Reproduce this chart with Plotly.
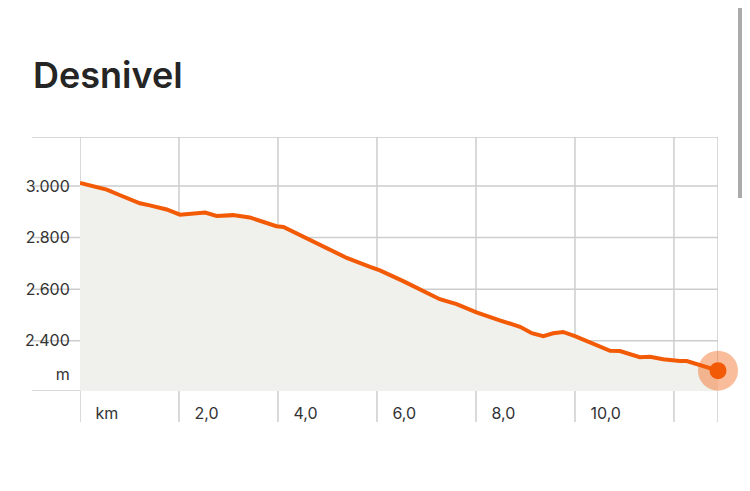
import plotly.graph_objects as go

# distance (km) and elevation (m)
km = [0.0, 0.30, 0.54, 0.81, 0.97, 1.21, 1.41, 1.75, 2.02, 2.22, 2.53, 2.76, 3.09, 3.43,
      3.70, 3.97, 4.11, 4.51, 4.98, 5.39, 5.86, 6.06, 6.53, 6.93, 7.27, 7.61, 7.88, 8.01,
      8.48, 8.89, 9.13, 9.36, 9.56, 9.76, 10.0, 10.37, 10.71, 10.91, 11.31, 11.52, 11.78,
      12.12, 12.26, 12.89]
elev = [3012, 2996, 2986, 2964, 2952, 2933, 2925, 2909, 2889, 2893, 2897, 2884, 2887, 2878,
        2863, 2844, 2841, 2803, 2760, 2721, 2686, 2673, 2631, 2592, 2561, 2542, 2518, 2510,
        2479, 2454, 2429, 2418, 2429, 2434, 2418, 2390, 2361, 2360, 2336, 2338, 2328,
        2321, 2321, 2284]

x_tickvals = [0, 2, 4, 6, 8, 10]
x_ticktext = ["km", "2,0", "4,0", "6,0", "8,0", "10,0"]
x_grid = [0, 2, 4, 6, 8, 10, 12, 12.89]
y_tickvals = [2271, 2400, 2600, 2800, 3000]
y_ticktext = ["m", "2.400", "2.600", "2.800", "3.000"]
y_grid = [2205, 2400, 2600, 2800, 3000, 3190]

ORANGE = "#f25a06"
GRID = "#cdcdcd"
FONT = "Inter, Roboto, sans-serif"

# page body has an 8px default margin, so the figure is 742x483 offset by 8px
W, H = 742, 483
L, T, R, B = 72, 129, 32, 100
PW = W - L - R
PH = H - T - B

fig = go.Figure()
fig.add_trace(go.Scatter(x=km, y=elev, mode="lines", fill="tozeroy",
                         fillcolor="#f0f0ec", line=dict(color=ORANGE, width=4),
                         hoverinfo="skip", cliponaxis=False))
fig.add_trace(go.Scatter(x=[km[-1]], y=[elev[-1]], mode="markers",
                         marker=dict(size=40, color="rgba(242,90,6,0.4)"),
                         hoverinfo="skip", cliponaxis=False))
fig.add_trace(go.Scatter(x=[km[-1]], y=[elev[-1]], mode="markers",
                         marker=dict(size=17, color=ORANGE),
                         hoverinfo="skip", cliponaxis=False))

shapes = []
for g in y_grid:
    shapes.append(dict(type="line", xref="paper", yref="y", x0=-48 / PW, x1=1, y0=g, y1=g,
                       line=dict(color=GRID, width=1.5), layer="below"))
for g in x_grid:
    shapes.append(dict(type="line", xref="x", yref="paper", x0=g, x1=g, y0=-31 / PH, y1=1,
                       line=dict(color=GRID, width=1.5), layer="below"))
# scrollbar decoration
sx = (732 - L) / PW
shapes.append(dict(type="line", xref="paper", yref="paper", x0=sx, x1=sx,
                   y0=(H - B + 2) / PH, y1=(H - B - 190) / PH,
                   line=dict(color="#ababab", width=4)))

fig.update_layout(
    width=W, height=H,
    margin=dict(l=L, r=R, t=T, b=B),
    paper_bgcolor="white", plot_bgcolor="rgba(0,0,0,0)",
    showlegend=False,
    separators=",.",
    title=dict(text="Desnivel", x=25 / W, xanchor="left", xref="container",
               y=1 - 67 / H, yanchor="middle", yref="container",
               font=dict(family=FONT, size=36, color="#252525", weight=600)),
    font=dict(family=FONT, size=16, color="#333333"),
    shapes=shapes,
    xaxis=dict(range=[0, 12.89], showgrid=False, zeroline=False, showline=False,
               tickvals=x_tickvals, ticktext=x_ticktext,
               ticks="outside", ticklen=6, tickcolor="rgba(0,0,0,0)",
               ticklabelposition="outside right", ticklabelshift=15,
               ticklabelstandoff=8,
               fixedrange=True),
    yaxis=dict(range=[2205, 3190], showgrid=False, zeroline=False, showline=False,
               tickvals=y_tickvals, ticktext=y_ticktext,
               ticks="outside", ticklen=6, tickcolor="rgba(0,0,0,0)",
               fixedrange=True),
)

fig.write_html("out.html", config={"displayModeBar": False})
